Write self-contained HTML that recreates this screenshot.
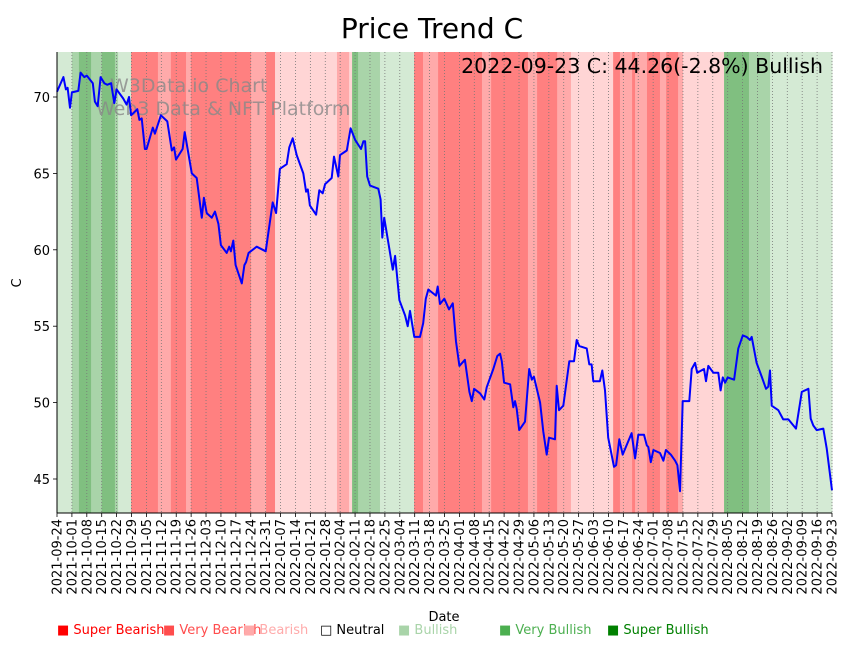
<!DOCTYPE html>
<html><head><meta charset="utf-8"><style>
body{margin:0;background:#fff;}
svg{display:block;font-family:"DejaVu Sans","Liberation Sans",sans-serif;}
</style></head><body>
<svg id="chart" width="848" height="646" viewBox="0 0 848 646" xmlns="http://www.w3.org/2000/svg">
<text x="432" y="38" text-anchor="middle" font-size="28">Price Trend C</text>
<g id="bands"></g>
<g id="grid"></g>
<text x="110" y="92" font-size="19" fill="#888" fill-opacity="0.8">W3Data.io Chart</text>
<text x="96" y="115" font-size="19" fill="#888" fill-opacity="0.8">Web3 Data &amp; NFT Platform</text>
<path id="line" fill="none" stroke="#0000ff" stroke-width="2" stroke-linejoin="round"/>
<text x="823" y="73" text-anchor="end" font-size="20.5">2022-09-23 C: 44.26(-2.8%) Bullish</text>
<g id="axes"></g>
<text x="21" y="283" font-size="13" text-anchor="middle" transform="rotate(-90 21 283)">C</text>
<text x="444" y="621" font-size="13" text-anchor="middle">Date</text>
<g id="legend"></g>
</svg>
<script>
const dayOffsets=[0,3,4.2,5,6.1,7,10,11.1,12.8,14,16.8,17.8,19.1,20.5,22.2,23.6,25.4,26.9,28,31.1,32.7,33.8,34.8,37.7,38.7,39.8,41.3,42.1,45,46,48.8,51.8,53.9,55,55.9,59,60,63.3,65.6,68,69,70.3,72.7,74.2,75.8,77,79.7,80.9,81.7,82.8,83.9,86.8,88,88.8,90,93.8,98,101.3,102.9,104.7,107.9,109.1,110.7,112.6,115.7,117,117.8,118.8,121.7,123.2,124.8,125.9,129,130.1,132.1,132.9,136.1,137.9,140,142.8,143.9,144.7,145.7,147,150.9,152,152.8,153.7,157.7,158.8,160.8,163.5,164.7,165.8,167.8,170.5,172,173.2,174.4,178,178.8,179.9,181.9,184.1,185.9,187.4,189,191.6,193.7,194.8,195.9,198.7,200.7,201.8,204.9,206.8,208.1,208.9,210,212.8,214.3,215.1,215.9,217.1,219.8,221.8,223,224,226.9,228.4,230,231.1,233.9,234.7,235.8,237.8,240.6,242.8,244.1,245.3,248.8,250,251.1,251.9,255,256.1,257.4,258.9,261.6,262.6,264.1,265.7,269.9,271.5,273,275.7,277,277.7,278.9,280.1,283.2,284.8,286,288.3,290.3,291.4,292.6,293.9,297,298.1,299.7,300.7,303.9,304.8,305.9,308.3,310.6,311.7,312.7,313.8,315,318,320,322.1,323.9,325.5,326.3,328.6,331,333,334.1,334.9,335.7,338.8,341.1,343.5,347.1,349.8,352.9,354,355.2,356.8,359.9,361.5,364];
const prices=[70.35,71.3,70.5,70.6,69.3,70.3,70.4,71.6,71.3,71.4,70.9,69.7,69.4,71.3,70.9,70.8,70.9,69.6,70.5,69.9,69.5,70.0,68.8,69.2,68.5,68.6,66.6,66.6,68.0,67.6,68.8,68.4,66.5,66.7,65.9,66.6,67.7,65.0,64.7,62.1,63.4,62.4,62.1,62.5,61.7,60.3,59.8,60.2,59.9,60.6,59.0,57.8,59.0,59.2,59.8,60.2,59.9,63.1,62.4,65.3,65.6,66.7,67.3,66.2,65.0,63.8,63.95,62.9,62.3,63.9,63.7,64.3,64.7,66.1,64.8,66.2,66.5,67.95,67.2,66.6,67.1,67.1,64.8,64.2,64.0,63.3,60.8,62.1,58.7,59.6,56.7,55.7,55.0,56.0,54.3,54.3,55.2,56.8,57.4,57.0,57.6,56.45,56.8,56.1,56.5,54.0,52.4,52.8,50.7,50.1,50.9,50.6,50.2,51.0,52.2,53.05,53.2,52.7,51.3,51.2,49.7,50.1,49.6,48.2,48.75,52.2,51.5,51.7,50.0,48.1,46.6,47.7,47.6,51.1,49.5,49.8,52.7,52.7,54.1,53.7,53.55,52.5,52.5,51.4,51.4,52.1,50.8,47.7,45.8,45.9,47.6,46.6,48.0,46.35,47.9,47.9,47.2,47.1,46.1,46.9,46.7,46.2,46.9,46.6,46.2,45.9,44.2,50.1,50.1,52.2,52.6,51.95,52.2,51.4,52.4,51.95,51.95,50.8,51.65,51.3,51.65,51.5,53.55,54.4,54.3,54.1,54.3,52.6,51.7,50.9,51.05,52.1,49.8,49.5,48.9,48.9,48.3,50.7,50.9,48.95,48.5,48.2,48.3,47.0,44.26];
const bandStarts=[0,7,10.3,16,21,27.2,28.7,34.8,47.4,53.5,60.6,62.9,91.1,98.2,102.4,131.5,137.2,138.6,141.4,151.7,167.7,171.9,179,199.6,203.9,221.2,225.5,234.9,241.4,261.2,264.4,270.1,271.5,277.1,283.2,286.1,291.7,294,313.3,325,334.9];
const bandLevels=[1,2,3,2,3,2,1,-3,-2,-3,-2,-3,-2,-3,-1,-2,-1,3,2,1,-3,-2,-3,-2,-3,-2,-3,-2,-1,-3,-2,-3,-2,-3,-2,-3,-2,-1,3,2,1];
const yTicks=[45,50,55,60,65,70];
const startDate=new Date(Date.UTC(2021,8,24));
const totalDays=364;
const legendLabels=["Super Bearish","Very Bearish","Bearish","Neutral","Bullish","Very Bullish","Super Bullish"];

const NS="http://www.w3.org/2000/svg";
const X0=57,X1=832,Y0=52,Y1=513;
const xs=d=>X0+d/totalDays*(X1-X0);
const ys=v=>97+(70-v)*(382/25);
const bandColor={"-3":"#ff8080","-2":"#ffaaaa","-1":"#ffd5d5","0":"#ffffff","1":"#d4ead4","2":"#a9d4a9","3":"#80bf80"};
function mk(tag,attrs,parent){const e=document.createElementNS(NS,tag);for(const k in attrs)e.setAttribute(k,attrs[k]);parent.appendChild(e);return e;}

const bands=document.getElementById('bands');
for(let i=0;i<bandStarts.length;i++){
  const s=bandStarts[i],e=i+1<bandStarts.length?bandStarts[i+1]:totalDays;
  const r=mk('rect',{x:xs(s),y:Y0,width:xs(e)-xs(s)+0.5,height:Y1-Y0,fill:bandColor[bandLevels[i]]},bands);
  
  
}
const grid=document.getElementById('grid');
const axes=document.getElementById('axes');
for(let d=0;d<=totalDays;d+=7){
  const x=xs(d);
  const g=mk('line',{x1:x,x2:x,y1:Y0,y2:Y1,stroke:'#777','stroke-width':0.8,'stroke-dasharray':'1,2'},grid);
  
  
  mk('line',{x1:x,x2:x,y1:Y1,y2:Y1+4,stroke:'#000','stroke-width':0.8},axes);
  const dt=new Date(startDate.getTime()+d*86400000);
  const lbl=dt.toISOString().slice(0,10);
  const t=mk('text',{x:x+4.5,y:Y1+6,'font-size':13,'text-anchor':'end',transform:`rotate(-90 ${x+4.5} ${Y1+6})`},axes);
  
  
  t.textContent=lbl;
}
yTicks.forEach(v=>{
  const y=ys(v);
  mk('line',{x1:X0-4,x2:X0,y1:y,y2:y,stroke:'#000','stroke-width':0.8},axes);
  const t=mk('text',{x:X0-7,y:y+5,'font-size':13,'text-anchor':'end'},axes);
  
  
  t.textContent=v;
});
mk('line',{x1:X0,x2:X0,y1:Y0,y2:Y1,stroke:'#000','stroke-width':1},axes);
mk('line',{x1:X0,x2:X1,y1:Y1,y2:Y1,stroke:'#000','stroke-width':1},axes);

let dstr='';
dayOffsets.forEach((d,i)=>{dstr+=(i?'L':'M')+xs(d).toFixed(1)+','+ys(prices[i]).toFixed(1);});
document.getElementById('line').setAttribute('d',dstr);

const legend=document.getElementById('legend');
const legColors=["#ff0000","#ff4d4d","#ffaaaa","#000000","#a9d4a9","#4caf50","#008000"];
const legX=[57,163,243,320,398,499,607];
legendLabels.forEach((l,i)=>{
  const t=mk('text',{x:legX[i],y:634,'font-size':13,fill:legColors[i]},legend);
  
  
  t.textContent=(i===3?'□ ':'■ ')+l;
});
</script>
</body></html>
